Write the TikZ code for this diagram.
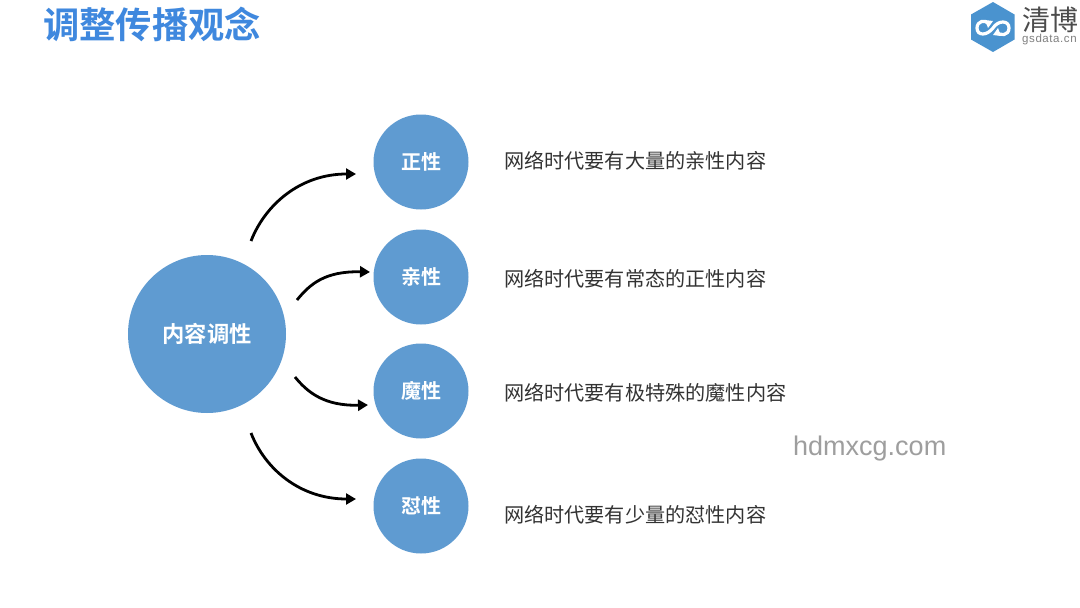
\documentclass[tikz,border=0pt]{standalone}
\usepackage{fontspec}
\setmainfont{Liberation Sans}
\newfontfamily\cjk{Noto Sans CJK SC}
\newfontfamily\cjkb{Noto Sans CJK SC Bold}
\newfontfamily\spaced[LetterSpace=5]{Liberation Sans}
\usetikzlibrary{arrows.meta,shapes.geometric}
\definecolor{circ}{HTML}{5F9BD1}
\definecolor{titleblue}{HTML}{3F88DE}
\definecolor{logob}{HTML}{4A93CF}
\definecolor{bodyt}{HTML}{333333}
\tikzset{
  big/.style={circle,fill=circ,minimum size=158pt,inner sep=0pt,text=white,font=\cjkb\fontsize{22.3}{24}\selectfont},
  small/.style={circle,fill=circ,minimum size=95pt,inner sep=0pt,text=white,font=\cjkb\fontsize{20}{22}\selectfont},
  desc/.style={anchor=west,inner sep=0pt,text=bodyt,font=\cjk\fontsize{20.15}{22}\selectfont},
  conn/.style={line width=2.8pt,-{Triangle[length=10pt,width=11pt]},black},
  loopline/.style={line width=3.2pt,white}
}
\begin{document}
\begin{tikzpicture}[x=1pt,y=-1pt]
\useasboundingbox (0,0) rectangle (1080,608);
\fill[white] (0,0) rectangle (1080,608);
\node[anchor=west,inner sep=0pt,text=titleblue,font=\cjkb\fontsize{36.3}{38}\selectfont] (title) at (43,24) {调整传播观念};
% logo
\fill[logob] (993,2) -- (1014.5,14.5) -- (1014.5,39.5) -- (993,52) -- (971,39.5) -- (971,14.5) -- cycle;
\draw[loopline] (989,24) .. controls (985,19) and (977,21) .. (977,28) .. controls (977,36) and (987,36) .. (993,28) .. controls (998,20) and (1009,20) .. (1009,28) .. controls (1009,36) and (1000,36) .. (996,32);
\fill[white] (993,21) -- (985,20) -- (988,28) -- cycle;
\fill[white] (993,35) -- (1001,36) -- (998,28) -- cycle;
\node[anchor=west,inner sep=0pt,text=black!70,font=\cjk\fontsize{28}{30}\selectfont] (logot) at (1022,20) {清博};
\node[anchor=west,inner sep=0pt,text=black!50,font=\spaced\fontsize{11.5}{13}\selectfont] (logos) at (1022,40) {gsdata.cn};
% circles
\node[big] (c) at (207,334) {内容调性};
\node[small] (a1) at (421,162) {正性};
\node[small] (a2) at (421,277) {亲性};
\node[small] (a3) at (421,391) {魔性};
\node[small] (a4) at (421,506) {怼性};
\node[desc] (t1) at (504,161) {网络时代要有大量的亲性内容};
\node[desc] (t2) at (504,279) {网络时代要有常态的正性内容};
\node[desc] (t3) at (504,393) {网络时代要有极特殊的魔性内容};
\node[desc] (t4) at (504,515) {网络时代要有少量的怼性内容};
\node[anchor=west,inner sep=0pt,text=black!38,font=\fontsize{27}{29}\selectfont] (wm) at (793,449) {hdmxcg.com};
% connector ends
\coordinate (s1) at (251,241);
\coordinate (e1) at (356,174);
\coordinate (s2) at (297,300);
\coordinate (e2) at (370,272);
\coordinate (s3) at (295,377);
\coordinate (e3) at (368,405);
\coordinate (s4) at (251,433);
\coordinate (e4) at (356,499);
\draw[conn] (s1) .. controls (265,205) and (300,174) .. (e1);
\draw[conn] (s2) .. controls (310,284) and (325,271) .. (e2);
\draw[conn] (s3) .. controls (308,393) and (325,406) .. (e3);
\draw[conn] (s4) .. controls (265,469) and (300,499) .. (e4);
\end{tikzpicture}
\end{document}
